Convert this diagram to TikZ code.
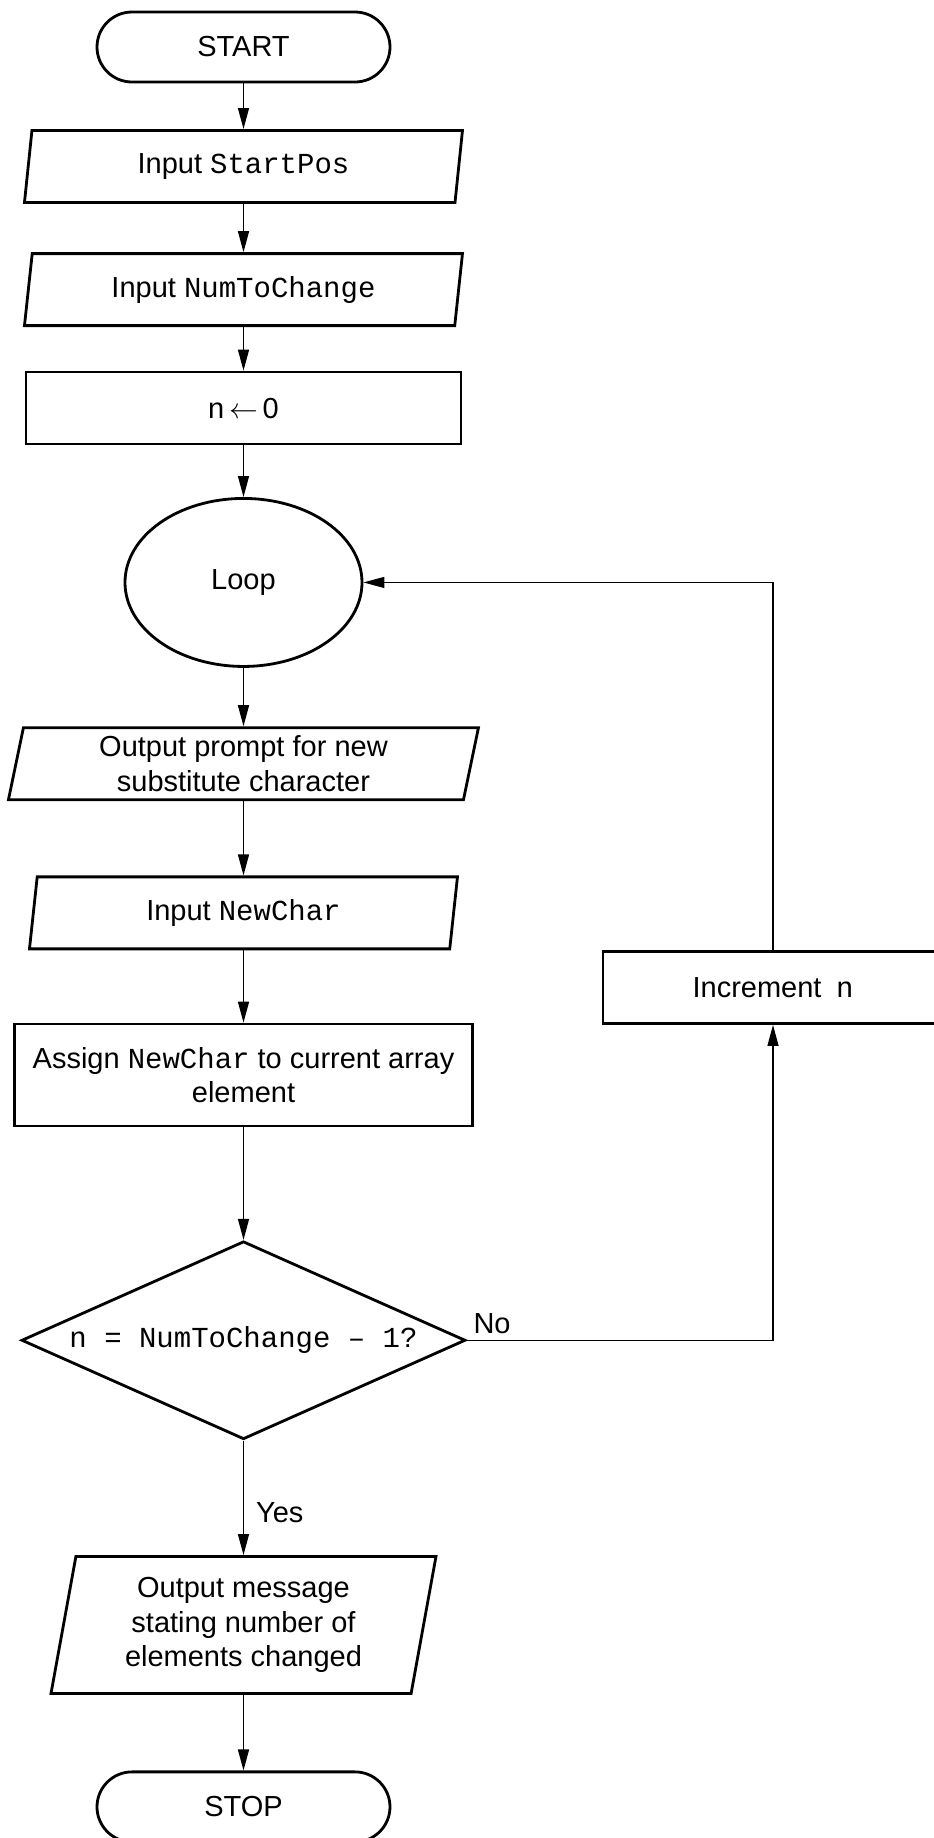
\documentclass[tikz,border=0pt]{standalone}
\usepackage{fontspec}
\setmainfont{Liberation Sans}
\setmonofont{Liberation Mono}
\usepackage{tikz}
\usetikzlibrary{shapes.geometric, arrows.meta, positioning}
\tikzset{terminal/.style={rectangle,draw,line width=1.4pt,rounded corners=17.5pt,minimum width=146.5pt,minimum height=35pt},
         io/.style={trapezium,draw,line width=1.4pt,trapezium left angle=76,trapezium right angle=104,trapezium stretches body,minimum height=36pt,align=center,inner sep=1pt},
         process/.style={rectangle,draw,line width=1.4pt,minimum height=36pt,align=center},
         loopnode/.style={ellipse,draw,line width=1.4pt,minimum width=118.5pt,minimum height=84pt},
         decision/.style={diamond,draw,line width=1.4pt,aspect=2.24,minimum width=222pt,minimum height=99pt,inner sep=1pt},
         arrow/.style={-{Triangle[length=10.5pt,width=5.5pt]},line width=0.65pt}}

\begin{document}
\begin{tikzpicture}[x=0.5pt,y=-0.5pt,font=\fontsize{14.5}{17.4}\selectfont]
    \useasboundingbox (0,0) rectangle (933,1838);
    \node (start) [terminal] at (243.5,47) {START};
    \node (inpos) [io, below=22.8pt of start, minimum width=219pt] {Input \texttt{StartPos}};
    \node (innum) [io, below=24.2pt of inpos, minimum width=219pt] {Input \texttt{NumToChange}};
    \node (zero) [process, below=21.8pt of innum, minimum width=217.5pt] {n\,$\leftarrow$\,0};
    \node (loop) [loopnode, below=25.8pt of zero] {Loop};
    \node (prompt) [io, below=29.2pt of loop, minimum width=235pt] {Output prompt for new\\substitute character};
    \node (inchar) [io, below=37.2pt of prompt, minimum width=214pt] {Input \texttt{NewChar}};
    \node (assign) [process, below=36.2pt of inchar, minimum width=229pt, minimum height=51pt] {Assign \texttt{NewChar} to current array\\element};
    \node (dec) [decision, below=56.2pt of assign] {\texttt{n = NumToChange – 1?}};
    \node (msg) [io, below=57.2pt of dec, minimum width=192.5pt, minimum height=68.5pt] {Output message\\stating number of\\elements changed};
    \node (stop) [terminal, below=37.8pt of msg] {STOP};
    \node (inc) [process, minimum width=170pt] at (773,987.5) {Increment\enspace\texttt{n}};
    % main column
    \foreach \a/\b in {start/inpos,inpos/innum,innum/zero,zero/loop,loop/prompt,prompt/inchar,inchar/assign,assign/dec,msg/stop}
      \draw[arrow] (\a.south) -- (\b.north);
    \draw[arrow] (dec.south) -- node[pos=0.63,right,inner sep=6pt]{Yes} (msg.north);
    % back to the loop
    \draw[arrow] (dec.east) -| node[pos=0,anchor=south west,inner sep=3pt]{No} (inc.south);
    \draw[arrow] (inc.north) |- (loop.east);
\end{tikzpicture}
\end{document}
